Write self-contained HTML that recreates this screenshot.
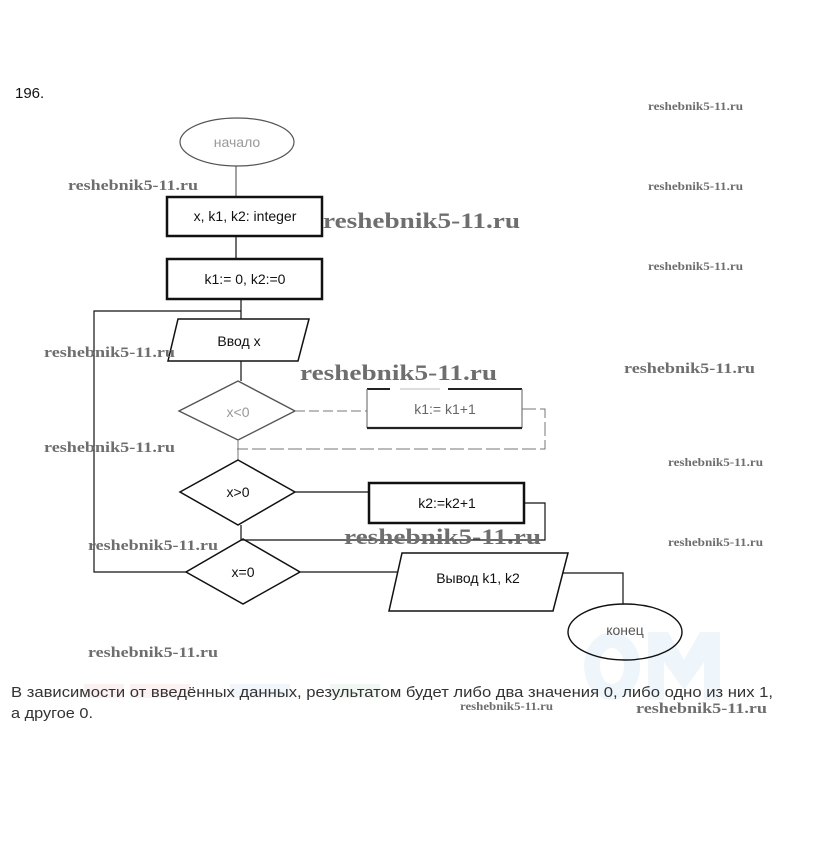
<!DOCTYPE html>
<html><head><meta charset="utf-8"><style>
html,body{margin:0;padding:0;background:#fff;}
svg{display:block;}
.t{font-family:"Liberation Sans",sans-serif;font-size:14px;fill:#111;}
.w{font-family:"Liberation Serif",serif;font-weight:bold;fill:#6e6e6e;}
</style></head><body>
<svg width="823" height="860" viewBox="0 0 823 860" xmlns="http://www.w3.org/2000/svg">
<rect width="823" height="860" fill="#fff"/>
<!-- faint background blobs -->
<g fill="#eef5fb">
<path d="M612 632 a28 34 0 1 0 0.1 0 Z M612 648 a12 18 0 1 1 -0.1 0 Z" fill-rule="evenodd"/>
<path d="M648 700 L648 632 L668 632 L684 660 L700 632 L720 632 L720 700 L704 700 L704 662 L684 690 L664 662 L664 700 Z"/>
</g>
<rect x="84" y="684" width="40" height="14" fill="#fcf1f1"/>
<rect x="130" y="684" width="60" height="14" fill="#fcf2f2"/>
<rect x="230" y="684" width="60" height="14" fill="#f1f6fb"/>
<rect x="330" y="684" width="50" height="14" fill="#f1f7f3"/>

<text x="15" y="98" class="t" style="font-size:15px">196.</text>

<g fill="none" stroke="#111">
<!-- start ellipse -->
<ellipse cx="237" cy="142" rx="57" ry="24" stroke="#555" stroke-width="1.2"/>
<line x1="236" y1="166" x2="236" y2="196" stroke="#444" stroke-width="1"/>
<!-- box1 -->
<rect x="167" y="197" width="155" height="39" stroke-width="2.5"/>
<line x1="236" y1="236" x2="236" y2="258" stroke-width="1.2"/>
<!-- box2 -->
<rect x="167" y="259" width="155" height="40" stroke-width="2.5"/>
<line x1="241" y1="299" x2="241" y2="319" stroke-width="1.2"/>
<!-- loop back -->
<polyline points="186,572 94,572 94,311 241,311" stroke-width="1.2"/>
<!-- input para -->
<polygon points="178,319 309,319 298,361 168,361" stroke-width="1.5"/>
<line x1="241" y1="361" x2="241" y2="381" stroke-width="1.2"/>
<!-- x<0 diamond -->
<polygon points="238,381 295,411 238,440 179,411" stroke="#555" stroke-width="1.4"/>
<line x1="295" y1="411" x2="367" y2="411" stroke="#777" stroke-width="1" stroke-dasharray="10,4"/>
<!-- k1 box (partially broken) -->
<line x1="367" y1="389" x2="390" y2="389" stroke="#222" stroke-width="2"/>
<line x1="448" y1="389" x2="522" y2="389" stroke="#222" stroke-width="2"/>
<line x1="400" y1="389" x2="440" y2="389" stroke="#bbb" stroke-width="1"/>
<line x1="367" y1="389" x2="367" y2="428" stroke="#777" stroke-width="1.2"/>
<line x1="522" y1="389" x2="522" y2="428" stroke="#777" stroke-width="1.2"/>
<line x1="367" y1="428" x2="522" y2="428" stroke="#222" stroke-width="2.2"/>
<polyline points="522,409 545,409 545,449 237,449" stroke="#777" stroke-width="1" stroke-dasharray="14,4"/>
<line x1="238" y1="440" x2="238" y2="460" stroke="#777" stroke-width="1"/>
<!-- x>0 diamond -->
<polygon points="238,460 295,492 238,525 180,492" stroke-width="1.5"/>
<line x1="295" y1="492" x2="370" y2="492" stroke-width="1.2"/>
<rect x="369" y="483" width="155" height="40" stroke-width="2.5"/>
<polyline points="524,503 545,503 545,540 241,540" stroke-width="1.2"/>
<line x1="241" y1="525" x2="241" y2="540" stroke-width="1.2"/>
<!-- x=0 diamond -->
<polygon points="243,539 300,572 243,604 186,572" stroke-width="1.5"/>
<line x1="300" y1="572" x2="397" y2="572" stroke-width="1.2"/>
<!-- output para -->
<polygon points="402,553 568,553 553,611 389,611" stroke-width="1.5"/>
<polyline points="563,573 623,573 623,604" stroke-width="1.2"/>
<ellipse cx="625" cy="632" rx="57" ry="28" stroke-width="1.4"/>
</g>

<g class="t" text-anchor="middle">
<text x="237" y="147" style="fill:#999">начало</text>
<text x="245" y="221">x, k1, k2: integer</text>
<text x="245" y="284">k1:= 0, k2:=0</text>
<text x="239" y="346">Ввод x</text>
<text x="238" y="417" style="fill:#999">x&lt;0</text>
<text x="445" y="414" style="fill:#666">k1:= k1+1</text>
<text x="238" y="497">x&gt;0</text>
<text x="447" y="508">k2:=k2+1</text>
<text x="243" y="577">x=0</text>
<text x="478" y="583">Вывод k1, k2</text>
<text x="625" y="635" style="fill:#555">конец</text>
</g>

<text x="11" y="697" class="t" style="font-size:15px;fill:#333" textLength="762" lengthAdjust="spacingAndGlyphs">В зависимости от введённых данных, результатом будет либо два значения 0, либо одно из них 1,</text>
<text x="11" y="718" class="t" style="font-size:15px;fill:#333" textLength="82" lengthAdjust="spacingAndGlyphs">а другое 0.</text>

<!-- watermarks -->
<g class="w" lengthAdjust="spacingAndGlyphs">
<text x="648" y="110" font-size="12" textLength="95" lengthAdjust="spacingAndGlyphs">reshebnik5-11.ru</text>
<text x="648" y="190" font-size="12" textLength="95" lengthAdjust="spacingAndGlyphs">reshebnik5-11.ru</text>
<text x="648" y="270" font-size="12" textLength="95" lengthAdjust="spacingAndGlyphs">reshebnik5-11.ru</text>
<text x="668" y="466" font-size="12" textLength="95" lengthAdjust="spacingAndGlyphs">reshebnik5-11.ru</text>
<text x="668" y="546" font-size="12" textLength="95" lengthAdjust="spacingAndGlyphs">reshebnik5-11.ru</text>
<text x="460" y="710" font-size="12" textLength="93" lengthAdjust="spacingAndGlyphs">reshebnik5-11.ru</text>
<text x="68" y="190" font-size="15" textLength="130" lengthAdjust="spacingAndGlyphs">reshebnik5-11.ru</text>
<text x="44" y="357" font-size="15" textLength="131" lengthAdjust="spacingAndGlyphs">reshebnik5-11.ru</text>
<text x="624" y="373" font-size="15" textLength="131" lengthAdjust="spacingAndGlyphs">reshebnik5-11.ru</text>
<text x="44" y="452" font-size="15" textLength="131" lengthAdjust="spacingAndGlyphs">reshebnik5-11.ru</text>
<text x="88" y="550" font-size="15" textLength="130" lengthAdjust="spacingAndGlyphs">reshebnik5-11.ru</text>
<text x="88" y="657" font-size="15" textLength="130" lengthAdjust="spacingAndGlyphs">reshebnik5-11.ru</text>
<text x="636" y="713" font-size="15" textLength="131" lengthAdjust="spacingAndGlyphs">reshebnik5-11.ru</text>
<text x="323" y="228" font-size="22" textLength="197" lengthAdjust="spacingAndGlyphs">reshebnik5-11.ru</text>
<text x="300" y="380" font-size="22" textLength="197" lengthAdjust="spacingAndGlyphs">reshebnik5-11.ru</text>
<text x="344" y="544" font-size="22" textLength="197" lengthAdjust="spacingAndGlyphs">reshebnik5-11.ru</text>
</g>
</svg>
</body></html>
